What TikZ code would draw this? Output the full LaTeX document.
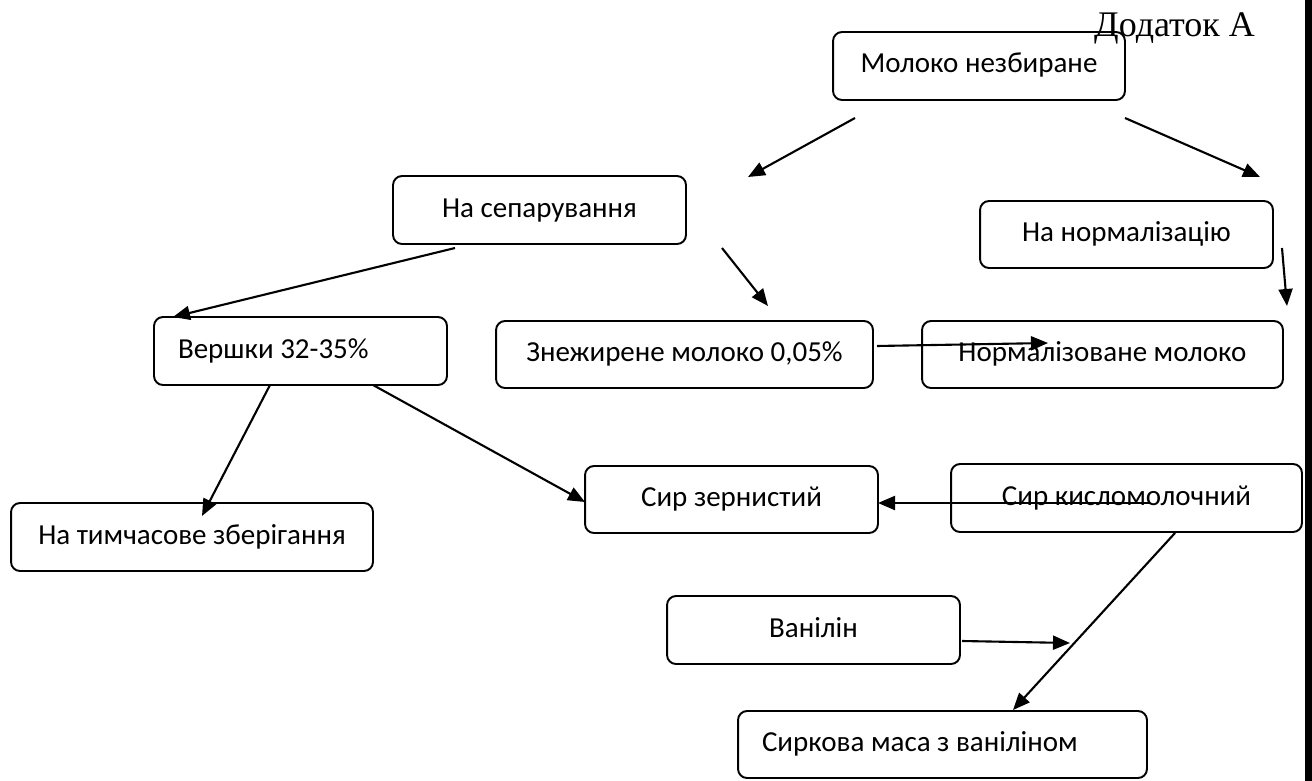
\documentclass[tikz,border=0pt]{standalone}
\usepackage{fontspec}
\setmainfont{Carlito}
\newfontfamily\dodfont{Liberation Serif}
\usetikzlibrary{arrows.meta}

\tikzset{
  blok/.style={draw, line width=1.1pt, rounded corners=0.18cm, minimum height=1.36cm,
    inner sep=0pt, align=center, text height=0.37cm, text depth=0.09cm},
  blokl/.style={blok, align=flush left, inner xsep=0.48cm},
  >={Triangle[length=0.34cm,width=0.28cm]}
}

\begin{document}
\begin{tikzpicture}[x=0.02cm, y=-0.02cm, font=\fontsize{16.5}{20}\selectfont]
\useasboundingbox (0,0) rectangle (1312,781);
% kant av siden
\fill (1305,0) rectangle (1312,781);
\node[anchor=base west, font=\dodfont\fontsize{20.5}{24}\selectfont] (dodatok) at (1088,36) {Додаток А};
% bokser
\node[blok, minimum width=5.84cm] (moloko) at (979,66) {Молоко незбиране};
\node[blok, minimum width=5.86cm] (separ) at (539.5,210) {На сепарування};
\node[blok, minimum width=5.86cm, minimum height=1.34cm] (normaliz) at (1126.5,234.5) {На нормалізацію};
\node[blokl, text width=4.9cm] (vershky) at (300.5,351) {Вершки 32-35\%};
\node[blok, minimum width=7.54cm, minimum height=1.34cm] (znezh) at (684.5,354.5) {Знежирене молоко 0,05\%};
\node[blok, minimum width=7.22cm, minimum height=1.34cm] (normmol) at (1102.5,354.5) {Нормалізоване молоко};
\node[blok, minimum width=7.24cm] (zberig) at (192,537) {На тимчасове зберігання};
\node[blok, minimum width=5.86cm, minimum height=1.34cm] (zern) at (731.5,499.5) {Сир зернистий};
\node[blok, minimum width=7.02cm] (kislo) at (1126.5,498) {Сир кисломолочний};
\node[blok, minimum width=5.86cm] (vanilin) at (813.5,630) {Ванілін};
\node[blokl, text width=7.22cm, minimum height=1.34cm] (syrkova) at (942.5,744.5) {Сиркова маса з ваніліном};
% endepunkter for piler
\coordinate (moloko-l) at (855,118);
\coordinate (separ-inn) at (748,177);
\coordinate (moloko-r) at (1125,118);
\coordinate (normaliz-inn) at (1260,177);
\coordinate (separ-l) at (455,248);
\coordinate (vershky-inn) at (173,317);
\coordinate (separ-r) at (722,248);
\coordinate (znezh-inn) at (768,306);
\coordinate (normaliz-ut) at (1282,248);
\coordinate (normmol-inn) at (1287,306);
\coordinate (znezh-ut) at (877,346);
\coordinate (normmol-midt) at (1048,343);
\coordinate (vershky-l) at (270,385);
\coordinate (zberig-inn) at (202,516);
\coordinate (vershky-r) at (373,385);
\coordinate (zern-l) at (585,502);
\coordinate (kislo-l) at (1150,503);
\coordinate (zern-r) at (878,503);
\coordinate (kislo-ut) at (1175,533);
\coordinate (syrkova-inn) at (1013,710);
\coordinate (vanilin-ut) at (962,641);
\coordinate (kryss) at (1070,643);
% piler
\draw[->, line width=1.2pt] (moloko-l) -- (separ-inn);
\draw[->, line width=1.2pt] (moloko-r) -- (normaliz-inn);
\draw[->, line width=1.2pt] (separ-l) -- (vershky-inn);
\draw[->, line width=1.2pt] (separ-r) -- (znezh-inn);
\draw[->, line width=1.2pt] (normaliz-ut) -- (normmol-inn);
\draw[->, line width=1.2pt] (znezh-ut) -- (normmol-midt);
\draw[->, line width=1.2pt] (vershky-l) -- (zberig-inn);
\draw[->, line width=1.2pt] (vershky-r) -- (zern-l);
\draw[->, line width=1.2pt] (kislo-l) -- (zern-r);
\draw[->, line width=1.2pt] (kislo-ut) -- (syrkova-inn);
\draw[->, line width=1.2pt] (vanilin-ut) -- (kryss);
\end{tikzpicture}
\end{document}
